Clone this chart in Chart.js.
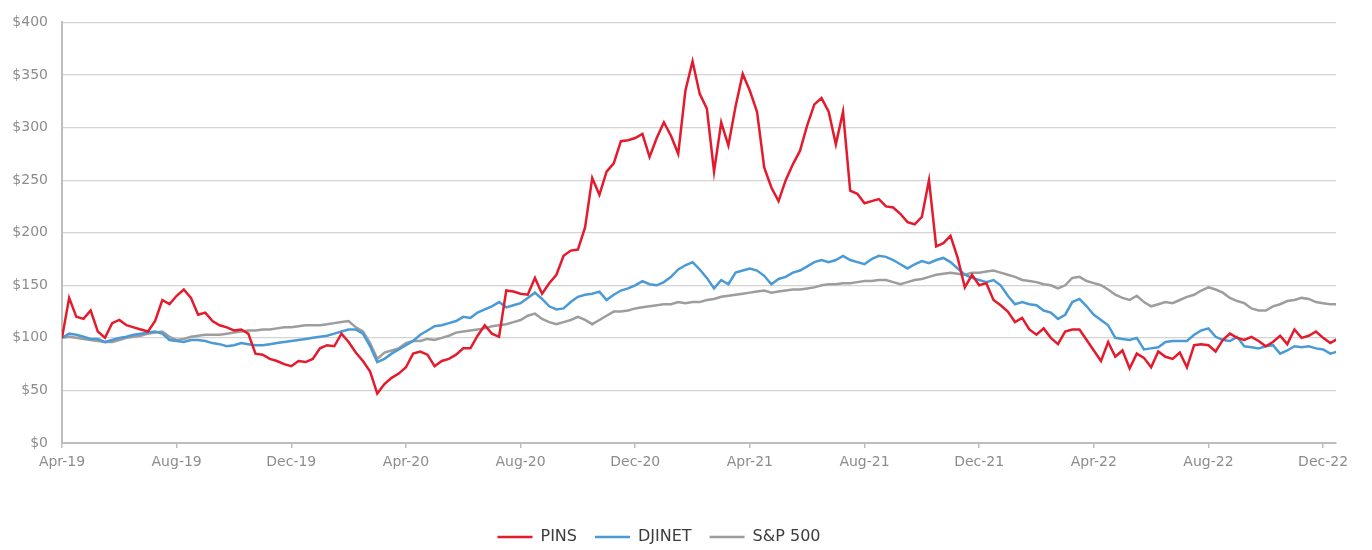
<!DOCTYPE html>
<html>
<head>
<meta charset="utf-8">
<script src="https://cdn.jsdelivr.net/npm/chart.js@4/dist/chart.umd.min.js"></script>
<style>
  html, body { margin: 0; padding: 0; background: #ffffff; overflow: hidden; }
  #wrap { width: 1372px; height: 555px; position: relative; }
</style>
</head>
<body>
<div id="wrap"><canvas id="c"></canvas></div>
<script>
// Sampling step in months from Apr-19 (roughly weekly observations)
const STEP_MONTHS = 0.25;

const tickLabels = ['Apr-19','Aug-19','Dec-19','Apr-20','Aug-20','Dec-20','Apr-21','Aug-21','Dec-21','Apr-22','Aug-22','Dec-22'];
const seriesNames = ['PINS', 'DJINET', 'S&P 500'];

const pins = [
  100,138,120,118,126,106,100,114,117,112,
  110,108,106,116,136,132,140,146,138,122,
  124,116,112,110,107,108,104,85,84,80,
  78,75,73,78,77,80,90,93,92,104,
  96,86,78,68,47,56,62,66,72,85,
  87,84,73,78,80,84,90,90,102,112,
  104,101,145,144,142,141,157,142,152,160,
  178,183,184,205,252,236,258,266,287,288,
  290,294,272,290,305,292,275,335,363,332,
  318,258,305,283,320,351,335,315,262,243,
  230,250,265,278,302,322,328,315,284,315,
  240,237,228,230,232,225,224,218,210,208,
  215,250,187,190,197,176,148,160,150,152,
  136,131,125,115,119,108,103,109,100,94,
  106,108,108,98,88,78,96,82,88,71,
  85,81,72,87,82,80,86,72,93,94,
  93,87,98,104,100,98,101,97,92,96,
  102,94,108,100,102,106,100,95,99
];

const djinet = [
  100,104,103,101,99,99,96,98,100,101,
  103,104,105,106,104,98,97,96,98,98,
  97,95,94,92,93,95,94,93,93,94,
  95,96,97,98,99,100,101,102,104,106,
  108,108,104,92,77,80,85,89,93,97,
  103,107,111,112,114,116,120,119,124,127,
  130,134,129,131,133,138,143,137,130,127,
  128,134,139,141,142,144,136,141,145,147,
  150,154,151,150,153,158,165,169,172,165,
  157,147,155,151,162,164,166,164,159,151,
  156,158,162,164,168,172,174,172,174,178,
  174,172,170,175,178,177,174,170,166,170,
  173,171,174,176,172,166,160,157,155,153,
  155,150,140,132,134,132,131,126,124,118,
  122,134,137,130,122,117,112,100,99,98,
  100,89,90,91,96,97,97,97,103,107,
  109,101,98,97,101,92,91,90,92,93,
  85,88,92,91,92,90,89,85,87
];

const sp500 = [
  100,101,100,99,98,97,96,96,98,100,
  101,102,104,105,106,101,98,99,101,102,
  103,103,103,104,105,106,107,107,108,108,
  109,110,110,111,112,112,112,113,114,115,
  116,110,106,95,80,86,88,90,95,97,
  97,99,98,100,102,105,106,107,108,109,
  111,112,113,115,117,121,123,118,115,113,
  115,117,120,117,113,117,121,125,125,126,
  128,129,130,131,132,132,134,133,134,134,
  136,137,139,140,141,142,143,144,145,143,
  144,145,146,146,147,148,150,151,151,152,
  152,153,154,154,155,155,153,151,153,155,
  156,158,160,161,162,161,160,162,162,163,
  164,162,160,158,155,154,153,151,150,147,
  150,157,158,154,152,150,146,141,138,136,
  140,134,130,132,134,133,136,139,141,145,
  148,146,143,138,135,133,128,126,126,130,
  132,135,136,138,137,134,133,132,132
];

const yTicks = [0, 50, 100, 150, 200, 250, 300, 350, 400];

function toPoints(arr) {
  return arr.map((v, i) => ({ x: i * STEP_MONTHS, y: v }));
}

const colors = ['#e31b2d', '#4a9ad6', '#9d9d9d'];
const axisFont = { family: "'DejaVu Sans', 'Liberation Sans', sans-serif", size: 14 };
const tickColor = '#8c8c8c';

// shift legend slightly left to match the reference placement
const legendShift = {
  id: 'legendShift',
  afterLayout(chart) {
    if (chart.legend) {
      chart.legend.left -= 9;
      chart.legend.right -= 9;
    }
  }
};

const ctx = document.getElementById('c');
new Chart(ctx, {
  type: 'line',
  data: {
    datasets: [pins, djinet, sp500].map((arr, k) => ({
      label: seriesNames[k],
      data: toPoints(arr),
      borderColor: colors[k],
      backgroundColor: colors[k],
      borderWidth: 2.5,
      pointRadius: 0,
      pointHoverRadius: 0,
      pointStyle: 'line',
      tension: 0,
      fill: false
    }))
  },
  plugins: [legendShift],
  options: {
    responsive: true,
    maintainAspectRatio: false,
    animation: false,
    layout: { padding: { top: 16, right: 36, left: 0, bottom: 0 } },
    plugins: {
      tooltip: { enabled: false },
      legend: {
        position: 'bottom',
        labels: {
          usePointStyle: true,
          pointStyleWidth: 35,
          padding: 18,
          color: '#3c3c3c',
          font: { family: "'DejaVu Sans', 'Liberation Sans', sans-serif", size: 16 }
        }
      }
    },
    scales: {
      x: {
        type: 'linear',
        min: 0,
        max: 44.45,
        afterBuildTicks: (scale) => {
          scale.ticks = tickLabels.map((_, i) => ({ value: i * 4 }));
        },
        afterFit: (scale) => { scale.height = 68; },
        ticks: {
          stepSize: 4,
          autoSkip: false,
          maxRotation: 0,
          padding: 6,
          color: tickColor,
          font: axisFont,
          callback: (v) => tickLabels[Math.round(v / 4)] || ''
        },
        grid: {
          display: true,
          drawOnChartArea: false,
          drawTicks: true,
          tickLength: 5,
          color: '#bdbdbd',
          lineWidth: 1.5
        },
        border: { display: true, color: '#bdbdbd', width: 2 }
      },
      y: {
        min: 0,
        max: 400,
        afterBuildTicks: (scale) => {
          scale.ticks = yTicks.map(v => ({ value: v }));
        },
        afterFit: (scale) => { scale.width = 62; },
        ticks: {
          stepSize: 50,
          padding: 14,
          color: tickColor,
          font: axisFont,
          callback: (v) => '$' + v
        },
        grid: {
          drawTicks: false,
          color: '#d4d4d4',
          lineWidth: 1.2
        },
        border: { display: true, color: '#bdbdbd', width: 2 }
      }
    }
  }
});
</script>
</body>
</html>
